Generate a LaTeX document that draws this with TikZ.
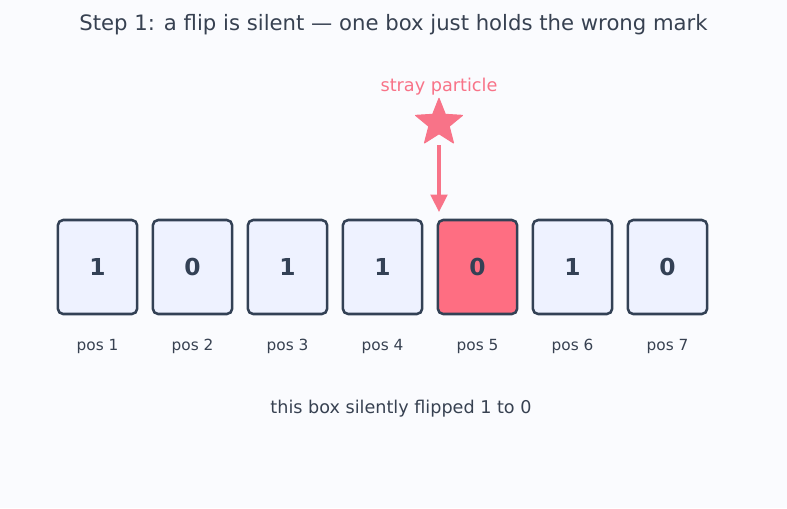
\documentclass[tikz,border=0pt]{standalone}
\usepackage{fontspec}
\setmainfont{DejaVu Sans}
\usetikzlibrary{shapes.geometric,arrows.meta}
\definecolor{bg}{HTML}{FAFBFE}
\definecolor{ink}{HTML}{334155}
\definecolor{txt}{HTML}{374151}
\definecolor{rose}{HTML}{F87388}
\definecolor{roseb}{HTML}{FE6E82}
\definecolor{cell}{HTML}{EEF2FF}
\tikzset{
  bit/.style={draw=ink, line width=1.9pt, rounded corners=4pt, minimum width=59.5pt, minimum height=70.5pt, inner sep=0pt, fill=cell, text=ink, font=\fontsize{17.5}{19}\selectfont\bfseries},
  hit/.style={bit, fill=roseb},
  poslabel/.style={text=txt, font=\fontsize{11.5}{13}\selectfont},
}
\begin{document}
\begin{tikzpicture}[x=0.75pt,y=-0.75pt]
\fill[bg] (0,0) rectangle (787,508);
\useasboundingbox (0,0) rectangle (787,508);
\node[text=txt, font=\fontsize{15.9}{18}\selectfont] (title) at (393.5,24.5) {Step 1: a flip is silent — one box just holds the wrong mark};
\foreach \i/\v in {1/1,2/0,3/1,4/1,6/1,7/0}{
  \node[bit] (b\i) at ({97.5+95*(\i-1)},267) {\v};
}
\node[hit] (b5) at (477.5,267) {0};
\foreach \i in {1,...,7}{
  \node[poslabel] (p\i) at ({97.5+95*(\i-1)},346.5) {pos \i};
}
\node[text=rose, font=\fontsize{13.25}{15}\selectfont] (stray) at (439,87) {stray particle};
\node[star, star points=5, star point ratio=2.3, fill=rose, draw=rose, line width=0.8pt, line join=round, minimum size=37pt, inner sep=0pt] (star) at (439,123) {};
\coordinate (tip) at (439,212);
\draw[rose, line width=2.3pt, -{Triangle[length=13pt,width=12.5pt]}] (439,145) -- (tip);
\node[text=txt, font=\fontsize{13.2}{15}\selectfont] (note) at (401,409) {this box silently flipped 1 to 0};
\end{tikzpicture}
\end{document}
